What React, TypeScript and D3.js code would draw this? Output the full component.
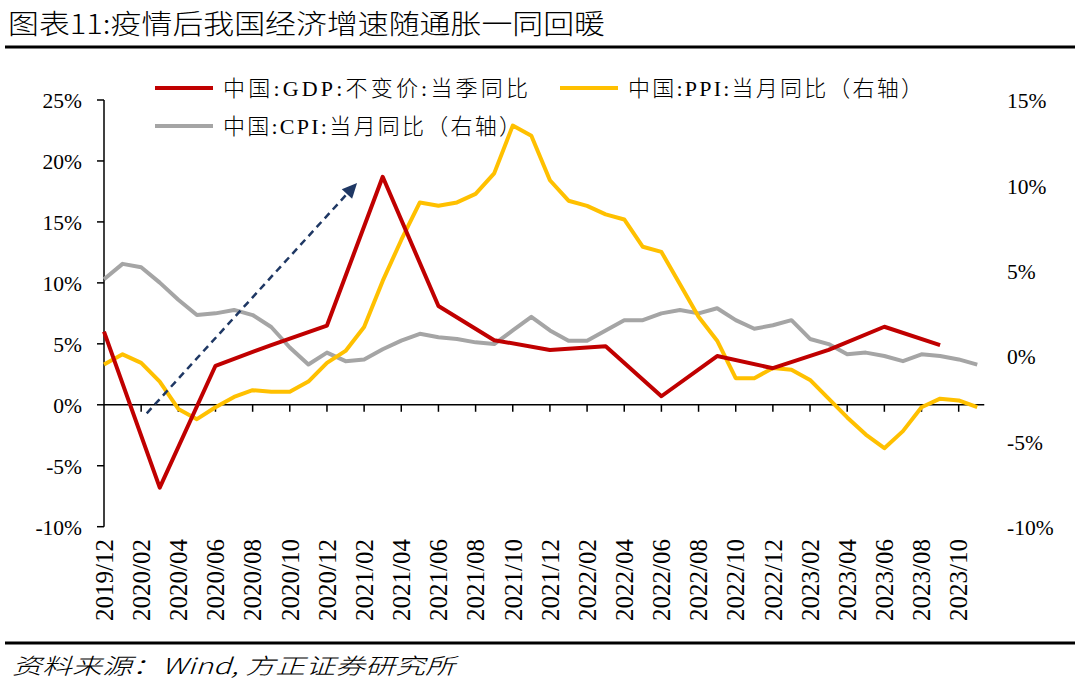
import React from "react";
import * as d3 from "d3";

const months: string[] = [
  "2019/12",
  "2020/01","2020/02","2020/03","2020/04","2020/05","2020/06","2020/07","2020/08","2020/09","2020/10","2020/11","2020/12",
  "2021/01","2021/02","2021/03","2021/04","2021/05","2021/06","2021/07","2021/08","2021/09","2021/10","2021/11","2021/12",
  "2022/01","2022/02","2022/03","2022/04","2022/05","2022/06","2022/07","2022/08","2022/09","2022/10","2022/11","2022/12",
  "2023/01","2023/02","2023/03","2023/04","2023/05","2023/06","2023/07","2023/08","2023/09","2023/10","2023/11",
];

const gdpQuarters: string[] = [
  "2019/12","2020/03","2020/06","2020/09","2020/12","2021/03","2021/06","2021/09",
  "2021/12","2022/03","2022/06","2022/09","2022/12","2023/03","2023/06","2023/09",
];
const gdpValues: number[] = [6.0, -6.8, 3.2, 4.9, 6.5, 18.7, 8.1, 5.3, 4.5, 4.8, 0.7, 4.0, 3.0, 4.5, 6.4, 4.9];

const cpiValues: number[] = [
  4.5,
  5.4, 5.2, 4.3, 3.3, 2.4, 2.5, 2.7, 2.4, 1.7, 0.5, -0.5, 0.2,
  -0.3, -0.2, 0.4, 0.9, 1.3, 1.1, 1.0, 0.8, 0.7, 1.5, 2.3, 1.5,
  0.9, 0.9, 1.5, 2.1, 2.1, 2.5, 2.7, 2.5, 2.8, 2.1, 1.6, 1.8,
  2.1, 1.0, 0.7, 0.1, 0.2, 0.0, -0.3, 0.1, 0.0, -0.2, -0.5,
];

const ppiValues: number[] = [
  -0.5,
  0.1, -0.4, -1.5, -3.1, -3.7, -3.0, -2.4, -2.0, -2.1, -2.1, -1.5, -0.4,
  0.3, 1.7, 4.4, 6.8, 9.0, 8.8, 9.0, 9.5, 10.7, 13.5, 12.9, 10.3,
  9.1, 8.8, 8.3, 8.0, 6.4, 6.1, 4.2, 2.3, 0.9, -1.3, -1.3, -0.7,
  -0.8, -1.4, -2.5, -3.6, -4.6, -5.4, -4.4, -3.0, -2.5, -2.6, -3.0,
];

const leftTicks: number[] = [-10, -5, 0, 5, 10, 15, 20, 25];
const rightTicks: number[] = [-10, -5, 0, 5, 10, 15];

const titleText = "图表11:疫情后我国经济增速随通胀一同回暖";
const sourceText = "资料来源：Wind, 方正证券研究所";
const legendGdp = "中国:GDP:不变价:当季同比";
const legendCpi = "中国:CPI:当月同比（右轴）";
const legendPpi = "中国:PPI:当月同比（右轴）";

// arrow annotation in data space: [month index, left-axis value]
const arrowStart: [number, number] = [2.3, -0.7];
const arrowEnd: [number, number] = [13.62, 18.2];

const W = 1080;
const H = 686;
const X0 = 104;
const STEP = 18.58;
const Y_TOP = 100;
const Y_BOT = 526.7;

const RED = "#C00000";
const YELLOW = "#FFC000";
const GRAY = "#A5A5A5";
const NAVY = "#1F3864";

const serif = "'Liberation Serif', 'Times New Roman', 'Noto Sans CJK SC', serif";
const cjk = "'Noto Sans CJK SC', 'Liberation Serif', sans-serif";

export default function App() {
  const x = d3
    .scalePoint<string>()
    .domain(months)
    .range([X0, X0 + (months.length - 1) * STEP]);
  const xi = d3.scaleLinear().domain([0, months.length - 1]).range([X0, X0 + (months.length - 1) * STEP]);
  const yL = d3.scaleLinear().domain([-10, 25]).range([Y_BOT, Y_TOP]);
  const yR = d3.scaleLinear().domain([-10, 15]).range([Y_BOT, Y_TOP]);

  const lineL = d3
    .line<[string, number]>()
    .x((d) => x(d[0]) as number)
    .y((d) => yL(d[1]));
  const lineR = d3
    .line<[string, number]>()
    .x((d) => x(d[0]) as number)
    .y((d) => yR(d[1]));

  const gdpPath = lineL(gdpQuarters.map((m, i) => [m, gdpValues[i]]));
  const cpiPath = lineR(months.map((m, i) => [m, cpiValues[i]]));
  const ppiPath = lineR(months.map((m, i) => [m, ppiValues[i]]));

  const y0 = yL(0);
  const axisEnd = (x(months[months.length - 1]) as number) + 7;

  const ax1 = xi(arrowStart[0]);
  const ay1 = yL(arrowStart[1]);
  const ax2 = xi(arrowEnd[0]);
  const ay2 = yL(arrowEnd[1]);
  const ang = Math.atan2(ay2 - ay1, ax2 - ax1);
  const headLen = 15;
  const headW = 7;
  const bx = ax2 - headLen * Math.cos(ang);
  const by = ay2 - headLen * Math.sin(ang);
  const px = -Math.sin(ang) * headW;
  const py = Math.cos(ang) * headW;

  const labelMonths = months.filter((_, i) => i % 2 === 0);

  return (
    <svg
      width={W}
      height={H}
      style={{ position: "absolute", left: 0, top: 0, background: "#fff" }}
    >
      <rect x={0} y={0} width={W} height={H} fill="#fff" />
      {/* title */}
      <text x={8} y={34} fontFamily={cjk} fontSize={27} fontWeight={300} fill="#000" textLength={597} lengthAdjust="spacingAndGlyphs">
        {titleText}
      </text>
      <line x1={5} x2={1075} y1={47} y2={47} stroke="#000" strokeWidth={3} />

      {/* legend */}
      <line x1={155} x2={213} y1={88} y2={88} stroke={RED} strokeWidth={4} />
      <text x={223} y={96} fontFamily={serif} fontSize={22} fontWeight={300} fill="#000" textLength={305} lengthAdjust="spacing">
        {legendGdp}
      </text>
      <line x1={560} x2={618} y1={88} y2={88} stroke={YELLOW} strokeWidth={4} />
      <text x={628} y={96} fontFamily={serif} fontSize={22} fontWeight={300} fill="#000" textLength={295} lengthAdjust="spacing">
        {legendPpi}
      </text>
      <line x1={155} x2={213} y1={126} y2={126} stroke={GRAY} strokeWidth={4} />
      <text x={223} y={134} fontFamily={serif} fontSize={22} fontWeight={300} fill="#000" textLength={298} lengthAdjust="spacing">
        {legendCpi}
      </text>

      {/* left axis */}
      <line x1={X0} x2={X0} y1={Y_TOP} y2={Y_BOT} stroke="#000" strokeWidth={1.5} />
      {leftTicks.map((t) => (
        <g key={"l" + t}>
          <line x1={X0 - 7} x2={X0} y1={yL(t)} y2={yL(t)} stroke="#000" strokeWidth={1.5} />
          <text
            x={82}
            y={yL(t)}
            dy="0.38em"
            textAnchor="end"
            fontFamily={serif}
            fontSize={21.5}
            fill="#000"
          >
            {t + "%"}
          </text>
        </g>
      ))}

      {/* right axis labels */}
      {rightTicks.map((t) => (
        <text
          key={"r" + t}
          x={1007}
          y={yR(t)}
          dy="0.38em"
          textAnchor="start"
          fontFamily={serif}
          fontSize={21.5}
          fill="#000"
        >
          {t + "%"}
        </text>
      ))}

      {/* x axis */}
      <line x1={X0} x2={axisEnd} y1={y0} y2={y0} stroke="#000" strokeWidth={1.5} />
      {labelMonths.map((m, i) =>
        i === 0 ? null : (
          <line
            key={"t" + m}
            x1={x(m) as number}
            x2={x(m) as number}
            y1={y0}
            y2={y0 + 7}
            stroke="#000"
            strokeWidth={1.5}
          />
        )
      )}
      {labelMonths.map((m) => (
        <text
          key={"x" + m}
          transform={`translate(${x(m)},${539}) rotate(-90)`}
          textAnchor="end"
          dy="0.35em"
          fontFamily={serif}
          fontSize={25}
          fill="#000"
        >
          {m}
        </text>
      ))}

      {/* series */}
      <path d={cpiPath || ""} fill="none" stroke={GRAY} strokeWidth={4} strokeLinejoin="round" />
      <path d={ppiPath || ""} fill="none" stroke={YELLOW} strokeWidth={4} strokeLinejoin="round" />
      <path d={gdpPath || ""} fill="none" stroke={RED} strokeWidth={4} strokeLinejoin="round" />

      {/* dashed arrow */}
      <line x1={ax1} y1={ay1} x2={bx} y2={by} stroke={NAVY} strokeWidth={2.5} strokeDasharray="7,5" />
      <path
        d={`M${ax2},${ay2} L${bx + px},${by + py} L${bx - px},${by - py} Z`}
        fill={NAVY}
      />

      {/* source */}
      <line x1={5} x2={1075} y1={643} y2={643} stroke="#000" strokeWidth={3} />
      <text
        x={12}
        y={674}
        fontFamily={cjk}
        fontSize={22}
        fontWeight={300}
        fontStyle="italic"
        fill="#000"
        textLength={443}
        lengthAdjust="spacingAndGlyphs"
      >
        {sourceText}
      </text>
    </svg>
  );
}
